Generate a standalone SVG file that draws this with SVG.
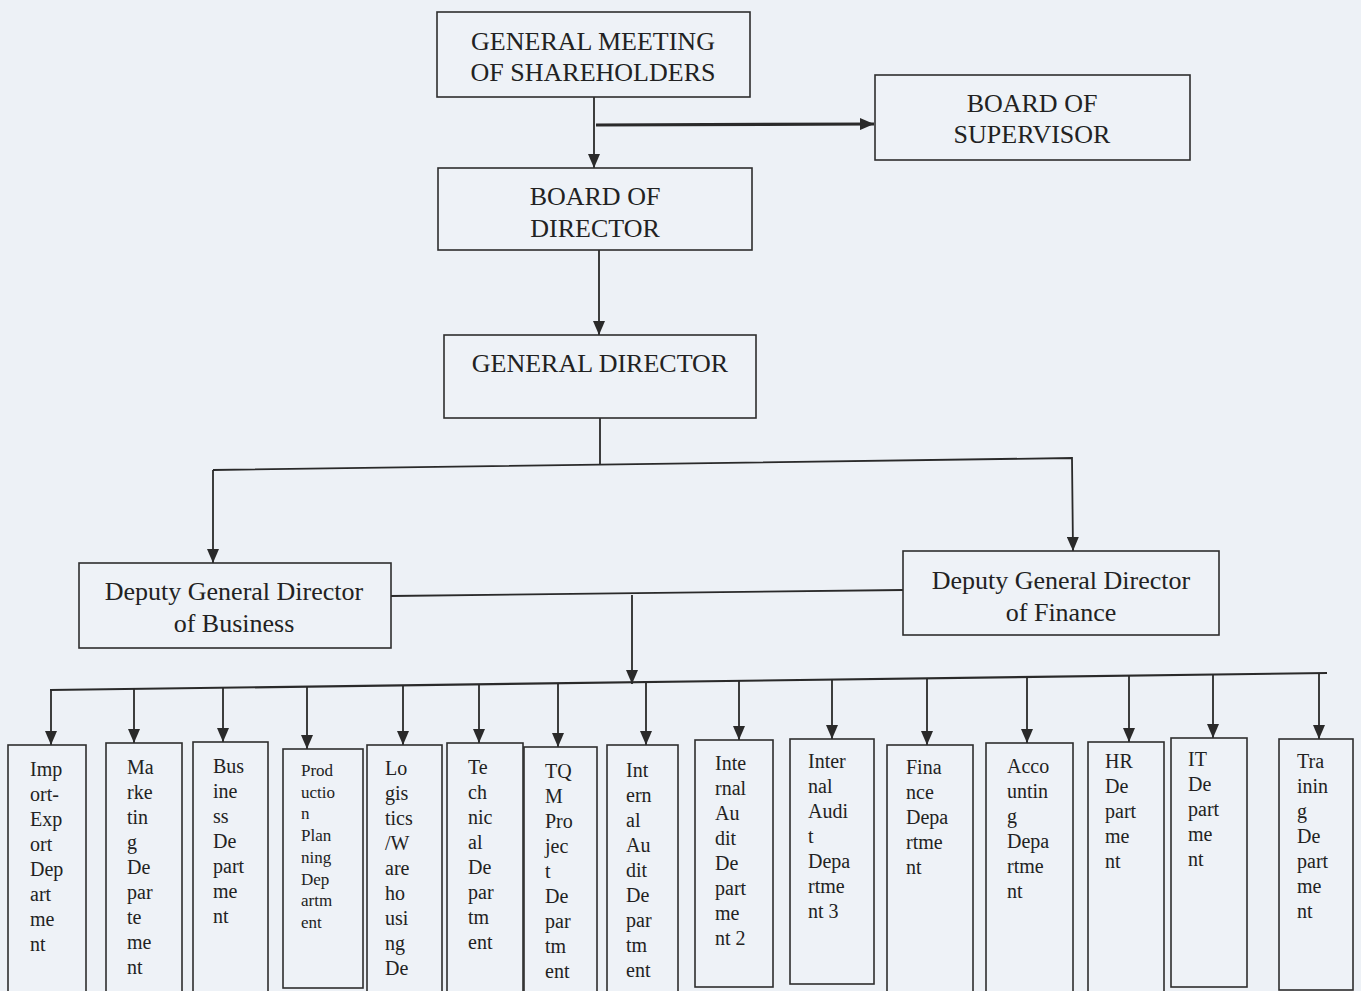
<svg xmlns="http://www.w3.org/2000/svg" width="1361" height="991" viewBox="0 0 1361 991">
<style>
.box{fill:#eef2f7;stroke:#2e2e2e;stroke-width:1.6}
.t{font-family:'Liberation Serif',Tinos,'Times New Roman','DejaVu Serif',serif;fill:#222}
.big{font-size:26px;text-anchor:middle}
.sm{font-size:20px}
.xs{font-size:17px}
.ln{fill:none;stroke:#2a2a2a;stroke-width:1.8}
</style>
<defs>
<marker id="ah" viewBox="0 0 14 12" refX="14" refY="6" markerWidth="14" markerHeight="12" markerUnits="userSpaceOnUse" orient="auto">
<path d="M0,0 L14,6 L0,12 z" fill="#2a2a2a"/>
</marker>
</defs>
<rect x="0" y="0" width="1361" height="991" fill="#edf1f6"/>

<g id="connectors">
<line class="ln" x1="594" y1="97" x2="594" y2="168" marker-end="url(#ah)"/>
<line class="ln" x1="596" y1="125" x2="874" y2="124" style="stroke-width:3.2" marker-end="url(#ah)"/>
<line class="ln" x1="599" y1="250" x2="599" y2="335" marker-end="url(#ah)"/>
<line class="ln" x1="600" y1="418" x2="600" y2="465"/>
<polyline class="ln" points="213,470 1072,458 1073,551" marker-end="url(#ah)"/>
<line class="ln" x1="213" y1="470" x2="213" y2="563" marker-end="url(#ah)"/>
<line class="ln" x1="391" y1="596" x2="903" y2="590"/>
<line class="ln" x1="632" y1="595" x2="632" y2="684" marker-end="url(#ah)"/>
<line class="ln" x1="50" y1="690" x2="1327" y2="673" style="stroke-width:2.2"/>
<line class="ln" x1="51" y1="690" x2="51" y2="745" marker-end="url(#ah)"/>
<line class="ln" x1="134" y1="689" x2="134" y2="743" marker-end="url(#ah)"/>
<line class="ln" x1="223" y1="688" x2="223" y2="742" marker-end="url(#ah)"/>
<line class="ln" x1="307" y1="687" x2="307" y2="749" marker-end="url(#ah)"/>
<line class="ln" x1="403" y1="685" x2="403" y2="745" marker-end="url(#ah)"/>
<line class="ln" x1="479" y1="684" x2="479" y2="743" marker-end="url(#ah)"/>
<line class="ln" x1="558" y1="683" x2="558" y2="747" marker-end="url(#ah)"/>
<line class="ln" x1="646" y1="682" x2="646" y2="745" marker-end="url(#ah)"/>
<line class="ln" x1="739" y1="681" x2="739" y2="740" marker-end="url(#ah)"/>
<line class="ln" x1="832" y1="680" x2="832" y2="739" marker-end="url(#ah)"/>
<line class="ln" x1="927" y1="678" x2="927" y2="745" marker-end="url(#ah)"/>
<line class="ln" x1="1027" y1="677" x2="1027" y2="743" marker-end="url(#ah)"/>
<line class="ln" x1="1129" y1="676" x2="1129" y2="742" marker-end="url(#ah)"/>
<line class="ln" x1="1213" y1="675" x2="1213" y2="738" marker-end="url(#ah)"/>
<line class="ln" x1="1319" y1="673" x2="1319" y2="739" marker-end="url(#ah)"/>
</g>

<g id="gms">
<rect class="box" x="437" y="12" width="313" height="85"/>
<text class="t big" x="593" y="50">GENERAL MEETING</text>
<text class="t big" x="593" y="81">OF SHAREHOLDERS</text>
</g>
<g id="bos">
<rect class="box" x="875" y="75" width="315" height="85"/>
<text class="t big" x="1032" y="112">BOARD OF</text>
<text class="t big" x="1032" y="143">SUPERVISOR</text>
</g>
<g id="bod">
<rect class="box" x="438" y="168" width="314" height="82"/>
<text class="t big" x="595" y="205">BOARD OF</text>
<text class="t big" x="595" y="237">DIRECTOR</text>
</g>
<g id="gd">
<rect class="box" x="444" y="335" width="312" height="83"/>
<text class="t big" x="600" y="372">GENERAL DIRECTOR</text>
</g>
<g id="dgd-business">
<rect class="box" x="79" y="563" width="312" height="85"/>
<text class="t big" x="234" y="600">Deputy General Director</text>
<text class="t big" x="234" y="632">of Business</text>
</g>
<g id="dgd-finance">
<rect class="box" x="903" y="551" width="316" height="84"/>
<text class="t big" x="1061" y="589">Deputy General Director</text>
<text class="t big" x="1061" y="621">of Finance</text>
</g>

<g id="d1">
<rect class="box" x="8" y="745" width="78" height="260"/>
<text class="t sm" y="776"><tspan x="30">Imp</tspan><tspan x="30" dy="25">ort-</tspan><tspan x="30" dy="25">Exp</tspan><tspan x="30" dy="25">ort</tspan><tspan x="30" dy="25">Dep</tspan><tspan x="30" dy="25">art</tspan><tspan x="30" dy="25">me</tspan><tspan x="30" dy="25">nt</tspan></text>
</g>
<g id="d2">
<rect class="box" x="106" y="743" width="76" height="260"/>
<text class="t sm" y="774"><tspan x="127">Ma</tspan><tspan x="127" dy="25">rke</tspan><tspan x="127" dy="25">tin</tspan><tspan x="127" dy="25">g</tspan><tspan x="127" dy="25">De</tspan><tspan x="127" dy="25">par</tspan><tspan x="127" dy="25">te</tspan><tspan x="127" dy="25">me</tspan><tspan x="127" dy="25">nt</tspan></text>
</g>
<g id="d3">
<rect class="box" x="193" y="742" width="75" height="260"/>
<text class="t sm" y="773"><tspan x="213">Bus</tspan><tspan x="213" dy="25">ine</tspan><tspan x="213" dy="25">ss</tspan><tspan x="213" dy="25">De</tspan><tspan x="213" dy="25">part</tspan><tspan x="213" dy="25">me</tspan><tspan x="213" dy="25">nt</tspan></text>
</g>
<g id="d4">
<rect class="box" x="283" y="749" width="80" height="239"/>
<text class="t xs" y="776"><tspan x="301">Prod</tspan><tspan x="301" dy="21.7">uctio</tspan><tspan x="301" dy="21.7">n</tspan><tspan x="301" dy="21.7">Plan</tspan><tspan x="301" dy="21.7">ning</tspan><tspan x="301" dy="21.7">Dep</tspan><tspan x="301" dy="21.7">artm</tspan><tspan x="301" dy="21.7">ent</tspan></text>
</g>
<g id="d5">
<rect class="box" x="367" y="745" width="75" height="260"/>
<text class="t sm" y="775"><tspan x="385">Lo</tspan><tspan x="385" dy="25">gis</tspan><tspan x="385" dy="25">tics</tspan><tspan x="385" dy="25">/W</tspan><tspan x="385" dy="25">are</tspan><tspan x="385" dy="25">ho</tspan><tspan x="385" dy="25">usi</tspan><tspan x="385" dy="25">ng</tspan><tspan x="385" dy="25">De</tspan></text>
</g>
<g id="d6">
<rect class="box" x="447" y="743" width="76" height="260"/>
<text class="t sm" y="774"><tspan x="468">Te</tspan><tspan x="468" dy="25">ch</tspan><tspan x="468" dy="25">nic</tspan><tspan x="468" dy="25">al</tspan><tspan x="468" dy="25">De</tspan><tspan x="468" dy="25">par</tspan><tspan x="468" dy="25">tm</tspan><tspan x="468" dy="25">ent</tspan></text>
</g>
<g id="d7">
<rect class="box" x="524" y="747" width="73" height="260"/>
<text class="t sm" y="778"><tspan x="545">TQ</tspan><tspan x="545" dy="25">M</tspan><tspan x="545" dy="25">Pro</tspan><tspan x="545" dy="25">jec</tspan><tspan x="545" dy="25">t</tspan><tspan x="545" dy="25">De</tspan><tspan x="545" dy="25">par</tspan><tspan x="545" dy="25">tm</tspan><tspan x="545" dy="25">ent</tspan></text>
</g>
<g id="d8">
<rect class="box" x="607" y="745" width="71" height="260"/>
<text class="t sm" y="777"><tspan x="626">Int</tspan><tspan x="626" dy="25">ern</tspan><tspan x="626" dy="25">al</tspan><tspan x="626" dy="25">Au</tspan><tspan x="626" dy="25">dit</tspan><tspan x="626" dy="25">De</tspan><tspan x="626" dy="25">par</tspan><tspan x="626" dy="25">tm</tspan><tspan x="626" dy="25">ent</tspan></text>
</g>
<g id="d9">
<rect class="box" x="695" y="740" width="78" height="247"/>
<text class="t sm" y="770"><tspan x="715">Inte</tspan><tspan x="715" dy="25">rnal</tspan><tspan x="715" dy="25">Au</tspan><tspan x="715" dy="25">dit</tspan><tspan x="715" dy="25">De</tspan><tspan x="715" dy="25">part</tspan><tspan x="715" dy="25">me</tspan><tspan x="715" dy="25">nt 2</tspan></text>
</g>
<g id="d10">
<rect class="box" x="790" y="739" width="84" height="245"/>
<text class="t sm" y="768"><tspan x="808">Inter</tspan><tspan x="808" dy="25">nal</tspan><tspan x="808" dy="25">Audi</tspan><tspan x="808" dy="25">t</tspan><tspan x="808" dy="25">Depa</tspan><tspan x="808" dy="25">rtme</tspan><tspan x="808" dy="25">nt 3</tspan></text>
</g>
<g id="d11">
<rect class="box" x="887" y="745" width="86" height="260"/>
<text class="t sm" y="774"><tspan x="906">Fina</tspan><tspan x="906" dy="25">nce</tspan><tspan x="906" dy="25">Depa</tspan><tspan x="906" dy="25">rtme</tspan><tspan x="906" dy="25">nt</tspan></text>
</g>
<g id="d12">
<rect class="box" x="986" y="743" width="87" height="260"/>
<text class="t sm" y="773"><tspan x="1007">Acco</tspan><tspan x="1007" dy="25">untin</tspan><tspan x="1007" dy="25">g</tspan><tspan x="1007" dy="25">Depa</tspan><tspan x="1007" dy="25">rtme</tspan><tspan x="1007" dy="25">nt</tspan></text>
</g>
<g id="d13">
<rect class="box" x="1088" y="742" width="76" height="260"/>
<text class="t sm" y="768"><tspan x="1105">HR</tspan><tspan x="1105" dy="25">De</tspan><tspan x="1105" dy="25">part</tspan><tspan x="1105" dy="25">me</tspan><tspan x="1105" dy="25">nt</tspan></text>
</g>
<g id="d14">
<rect class="box" x="1171" y="738" width="76" height="249"/>
<text class="t sm" y="766"><tspan x="1188">IT</tspan><tspan x="1188" dy="25">De</tspan><tspan x="1188" dy="25">part</tspan><tspan x="1188" dy="25">me</tspan><tspan x="1188" dy="25">nt</tspan></text>
</g>
<g id="d15">
<rect class="box" x="1279" y="739" width="74" height="251"/>
<text class="t sm" y="768"><tspan x="1297">Tra</tspan><tspan x="1297" dy="25">inin</tspan><tspan x="1297" dy="25">g</tspan><tspan x="1297" dy="25">De</tspan><tspan x="1297" dy="25">part</tspan><tspan x="1297" dy="25">me</tspan><tspan x="1297" dy="25">nt</tspan></text>
</g>
</svg>
